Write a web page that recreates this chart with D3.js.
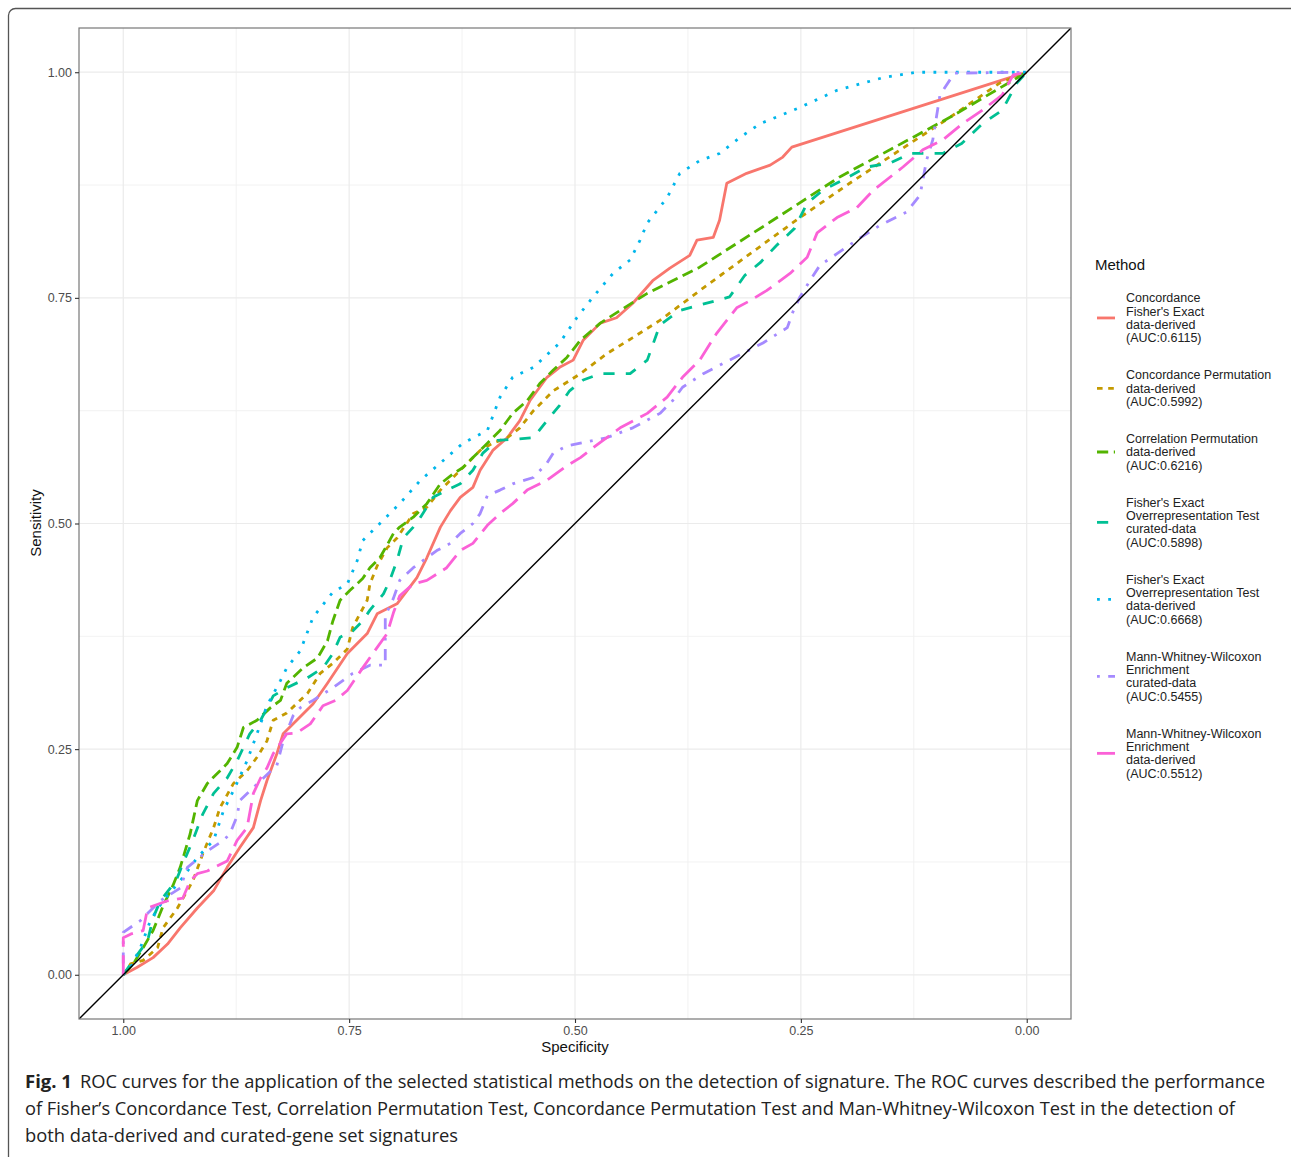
<!DOCTYPE html>
<html>
<head>
<meta charset="utf-8">
<script src="https://cdn.jsdelivr.net/npm/d3@7"></script>
<style>
    body { margin: 0; background: #fff; }
</style>
</head>
<body>
<div id="container"></div>
<script>
// ROC points: specificity (x, reversed) and sensitivity (y)
const cfe_spec = [1, 0.985, 0.967, 0.951, 0.937, 0.918, 0.900, 0.885, 0.871, 0.856, 0.848, 0.841, 0.830, 0.823, 0.808, 0.790, 0.774, 0.752, 0.730, 0.719, 0.697, 0.675, 0.664, 0.649, 0.638, 0.627, 0.613, 0.605, 0.591, 0.575, 0.561, 0.550, 0.531, 0.517, 0.502, 0.491, 0.472, 0.454, 0.436, 0.414, 0.395, 0.373, 0.365, 0.347, 0.340, 0.332, 0.310, 0.284, 0.270, 0.260, 0]
const cfe_sens = [0, 0.008, 0.019, 0.034, 0.052, 0.074, 0.093, 0.119, 0.141, 0.163, 0.193, 0.215, 0.245, 0.267, 0.282, 0.300, 0.323, 0.356, 0.378, 0.400, 0.411, 0.440, 0.462, 0.496, 0.514, 0.529, 0.540, 0.559, 0.581, 0.595, 0.614, 0.636, 0.662, 0.673, 0.681, 0.703, 0.722, 0.728, 0.744, 0.769, 0.783, 0.797, 0.814, 0.817, 0.836, 0.877, 0.888, 0.897, 0.906, 0.917, 1]

const cperm_spec = [1, 0.992, 0.978, 0.962, 0.956, 0.940, 0.923, 0.912, 0.900, 0.893, 0.878, 0.863, 0.852, 0.841, 0.834, 0.819, 0.796, 0.782, 0.768, 0.752, 0.746, 0.738, 0.730, 0.727, 0.719, 0.708, 0.697, 0.679, 0.664, 0.649, 0.635, 0.619, 0.605, 0.591, 0.575, 0.561, 0.546, 0.524, 0.494, 0.465, 0.436, 0.406, 0.362, 0.306, 0.251, 0.196, 0.140, 0.085, 0.030, 0]
const cperm_sens = [0, 0.012, 0.016, 0.030, 0.052, 0.074, 0.104, 0.134, 0.163, 0.185, 0.212, 0.226, 0.241, 0.259, 0.282, 0.290, 0.312, 0.334, 0.345, 0.361, 0.385, 0.400, 0.415, 0.433, 0.453, 0.473, 0.484, 0.511, 0.518, 0.537, 0.551, 0.567, 0.581, 0.589, 0.595, 0.606, 0.625, 0.647, 0.666, 0.688, 0.706, 0.725, 0.758, 0.799, 0.839, 0.877, 0.914, 0.950, 0.988, 1]

const corr_spec = [1, 0.989, 0.978, 0.967, 0.956, 0.945, 0.937, 0.926, 0.918, 0.907, 0.896, 0.885, 0.874, 0.867, 0.852, 0.837, 0.826, 0.819, 0.801, 0.785, 0.774, 0.768, 0.760, 0.749, 0.735, 0.727, 0.716, 0.708, 0.701, 0.694, 0.679, 0.664, 0.649, 0.635, 0.624, 0.613, 0.597, 0.583, 0.569, 0.553, 0.539, 0.524, 0.509, 0.494, 0.472, 0.450, 0.420, 0.398, 0.362, 0.284, 0.207, 0.085, 0]
const corr_sens = [0, 0.012, 0.030, 0.049, 0.076, 0.099, 0.119, 0.156, 0.193, 0.212, 0.223, 0.234, 0.252, 0.274, 0.282, 0.296, 0.304, 0.323, 0.340, 0.351, 0.370, 0.392, 0.415, 0.426, 0.439, 0.451, 0.462, 0.476, 0.489, 0.496, 0.507, 0.522, 0.544, 0.555, 0.562, 0.573, 0.589, 0.603, 0.622, 0.636, 0.655, 0.670, 0.684, 0.703, 0.722, 0.736, 0.755, 0.766, 0.784, 0.834, 0.884, 0.950, 1]

const fora_cur_spec = [1, 0.989, 0.973, 0.967, 0.959, 0.948, 0.940, 0.934, 0.923, 0.912, 0.900, 0.885, 0.874, 0.860, 0.848, 0.834, 0.819, 0.796, 0.779, 0.768, 0.760, 0.746, 0.735, 0.727, 0.712, 0.705, 0.697, 0.690, 0.679, 0.671, 0.657, 0.642, 0.627, 0.613, 0.602, 0.586, 0.546, 0.531, 0.517, 0.506, 0.491, 0.472, 0.439, 0.420, 0.406, 0.384, 0.362, 0.329, 0.312, 0.295, 0.277, 0.257, 0.243, 0.226, 0.201, 0.177, 0.152, 0.129, 0.093, 0.072, 0.049, 0.027, 0.011, 0]
const fora_cur_sens = [0, 0.016, 0.038, 0.063, 0.082, 0.096, 0.108, 0.123, 0.149, 0.178, 0.201, 0.218, 0.237, 0.267, 0.282, 0.309, 0.318, 0.329, 0.340, 0.356, 0.374, 0.381, 0.392, 0.404, 0.422, 0.437, 0.459, 0.484, 0.496, 0.507, 0.529, 0.537, 0.544, 0.559, 0.578, 0.592, 0.595, 0.614, 0.631, 0.647, 0.659, 0.666, 0.666, 0.681, 0.720, 0.736, 0.742, 0.751, 0.775, 0.789, 0.808, 0.827, 0.855, 0.869, 0.882, 0.895, 0.899, 0.910, 0.910, 0.921, 0.943, 0.958, 0.988, 1]

const fora_dd_spec = [1, 0.992, 0.981, 0.970, 0.956, 0.937, 0.918, 0.900, 0.889, 0.878, 0.863, 0.852, 0.841, 0.826, 0.819, 0.804, 0.790, 0.768, 0.752, 0.741, 0.735, 0.716, 0.694, 0.671, 0.649, 0.624, 0.597, 0.583, 0.569, 0.546, 0.517, 0.498, 0.480, 0.458, 0.439, 0.428, 0.420, 0.409, 0.398, 0.384, 0.362, 0.340, 0.317, 0.295, 0.251, 0.210, 0.159, 0.122, 0]
const fora_dd_sens = [0, 0.008, 0.030, 0.060, 0.082, 0.104, 0.130, 0.149, 0.182, 0.204, 0.237, 0.267, 0.298, 0.326, 0.340, 0.359, 0.396, 0.424, 0.433, 0.459, 0.481, 0.500, 0.522, 0.548, 0.567, 0.589, 0.603, 0.640, 0.662, 0.673, 0.700, 0.728, 0.751, 0.777, 0.792, 0.814, 0.833, 0.847, 0.861, 0.888, 0.902, 0.910, 0.928, 0.943, 0.961, 0.980, 0.994, 1, 1]

const mww_cur_spec = [1, 1, 0.981, 0.959, 0.937, 0.929, 0.907, 0.889, 0.882, 0.874, 0.871, 0.848, 0.830, 0.823, 0.812, 0.804, 0.790, 0.768, 0.746, 0.727, 0.710, 0.710, 0.701, 0.694, 0.679, 0.664, 0.653, 0.638, 0.627, 0.613, 0.605, 0.597, 0.583, 0.569, 0.546, 0.531, 0.524, 0.509, 0.494, 0.465, 0.436, 0.406, 0.392, 0.381, 0.358, 0.329, 0.292, 0.265, 0.259, 0.251, 0.240, 0.229, 0.210, 0.185, 0.163, 0.133, 0.118, 0.111, 0.104, 0.096, 0.080, 0]
const mww_cur_sens = [0, 0.047, 0.060, 0.082, 0.096, 0.119, 0.137, 0.149, 0.156, 0.176, 0.193, 0.215, 0.232, 0.259, 0.287, 0.296, 0.304, 0.318, 0.334, 0.343, 0.343, 0.398, 0.417, 0.437, 0.451, 0.462, 0.470, 0.478, 0.489, 0.500, 0.511, 0.531, 0.537, 0.544, 0.551, 0.567, 0.578, 0.586, 0.589, 0.595, 0.606, 0.622, 0.636, 0.651, 0.666, 0.681, 0.700, 0.717, 0.734, 0.751, 0.769, 0.786, 0.799, 0.816, 0.830, 0.845, 0.864, 0.902, 0.925, 0.975, 0.999, 1]

const mww_dd_spec = [1, 1, 0.992, 0.978, 0.973, 0.951, 0.934, 0.926, 0.918, 0.907, 0.885, 0.874, 0.863, 0.856, 0.848, 0.841, 0.834, 0.819, 0.808, 0.793, 0.779, 0.765, 0.752, 0.735, 0.723, 0.708, 0.701, 0.694, 0.679, 0.664, 0.642, 0.627, 0.613, 0.597, 0.583, 0.569, 0.553, 0.531, 0.509, 0.494, 0.472, 0.450, 0.420, 0.398, 0.381, 0.362, 0.343, 0.321, 0.306, 0.288, 0.262, 0.243, 0.232, 0.210, 0.188, 0.170, 0.137, 0.115, 0.093, 0.071, 0.049, 0.027, 0.015, 0]
const mww_dd_sens = [0, 0.041, 0.045, 0.049, 0.074, 0.082, 0.085, 0.104, 0.112, 0.115, 0.126, 0.149, 0.163, 0.201, 0.218, 0.229, 0.245, 0.267, 0.268, 0.278, 0.298, 0.304, 0.315, 0.340, 0.357, 0.378, 0.401, 0.420, 0.433, 0.437, 0.451, 0.470, 0.478, 0.498, 0.511, 0.522, 0.537, 0.548, 0.564, 0.573, 0.590, 0.606, 0.622, 0.640, 0.662, 0.681, 0.711, 0.739, 0.747, 0.758, 0.777, 0.795, 0.822, 0.839, 0.850, 0.869, 0.895, 0.914, 0.925, 0.943, 0.958, 0.975, 0.997, 1]

const method_labels = [
    ["Concordance", "Fisher's Exact", "data-derived", "(AUC:0.6115)"],
    ["Concordance Permutation", "data-derived", "(AUC:0.5992)"],
    ["Correlation Permutation", "data-derived", "(AUC:0.6216)"],
    ["Fisher's Exact", "Overrepresentation Test", "curated-data", "(AUC:0.5898)"],
    ["Fisher's Exact", "Overrepresentation Test", "data-derived", "(AUC:0.6668)"],
    ["Mann-Whitney-Wilcoxon", "Enrichment", "curated-data", "(AUC:0.5455)"],
    ["Mann-Whitney-Wilcoxon", "Enrichment", "data-derived", "(AUC:0.5512)"]
]

const major_ticks = [0, 0.25, 0.5, 0.75, 1]
const minor_ticks = [0.125, 0.375, 0.625, 0.875]

const caption_lines = [
    "ROC curves for the application of the selected statistical methods on the detection of signature. The ROC curves described the performance",
    "of Fisher\u2019s Concordance Test, Correlation Permutation Test, Concordance Permutation Test and Man-Whitney-Wilcoxon Test in the detection of",
    "both data-derived and curated-gene set signatures"
]

// ggplot default hues and linetypes, in legend order
const colors = ["#F8766D", "#C49A00", "#53B400", "#00C094", "#00B6EB", "#A58AFF", "#FB61D7"]
const linetypes = [null, [2, 2], [4, 2], [4, 4], [1, 3], [1, 3, 4, 3], [7, 3]]

const series = [
    d3.zip(cfe_spec, cfe_sens),
    d3.zip(cperm_spec, cperm_sens),
    d3.zip(corr_spec, corr_sens),
    d3.zip(fora_cur_spec, fora_cur_sens),
    d3.zip(fora_dd_spec, fora_dd_sens),
    d3.zip(mww_cur_spec, mww_cur_sens),
    d3.zip(mww_dd_spec, mww_dd_sens)
]

const width = 1291, height = 1157
const panel = { left: 79, right: 1071, top: 28, bottom: 1019 }
const lw = 2.8
const sans = "'Liberation Sans', Arial, Helvetica, sans-serif"

const svg = d3.select("div#container").append("svg")
    .attr("width", width)
    .attr("height", height)
    .style("display", "block")

svg.append("rect")
    .attr("width", width)
    .attr("height", height)
    .attr("fill", "#fff")

// journal figure frame, runs off the right and bottom edges
svg.append("rect")
    .attr("x", 8.5).attr("y", 8.5)
    .attr("width", 1400).attr("height", 1300)
    .attr("rx", 7)
    .attr("fill", "none")
    .attr("stroke", "#555")
    .attr("stroke-width", 1.3)

const xScale = d3.scaleLinear().domain([1.049, -0.049]).range([panel.left, panel.right])
const yScale = d3.scaleLinear().domain([-0.049, 1.049]).range([panel.bottom, panel.top])

svg.append("clipPath").attr("id", "clip")
    .append("rect")
    .attr("x", panel.left).attr("y", panel.top)
    .attr("width", panel.right - panel.left)
    .attr("height", panel.bottom - panel.top)

// grid
const grid = svg.append("g")
grid.selectAll("line.vminor").data(minor_ticks).enter().append("line")
    .attr("x1", d => xScale(d)).attr("x2", d => xScale(d))
    .attr("y1", panel.top).attr("y2", panel.bottom)
    .attr("stroke", "#f0f0f0").attr("stroke-width", 0.9)
grid.selectAll("line.hminor").data(minor_ticks).enter().append("line")
    .attr("y1", d => yScale(d)).attr("y2", d => yScale(d))
    .attr("x1", panel.left).attr("x2", panel.right)
    .attr("stroke", "#f0f0f0").attr("stroke-width", 0.9)
grid.selectAll("line.vmajor").data(major_ticks).enter().append("line")
    .attr("x1", d => xScale(d)).attr("x2", d => xScale(d))
    .attr("y1", panel.top).attr("y2", panel.bottom)
    .attr("stroke", "#ebebeb").attr("stroke-width", 1.2)
grid.selectAll("line.hmajor").data(major_ticks).enter().append("line")
    .attr("y1", d => yScale(d)).attr("y2", d => yScale(d))
    .attr("x1", panel.left).attr("x2", panel.right)
    .attr("stroke", "#ebebeb").attr("stroke-width", 1.2)

// curves
const line = d3.line()
    .x(d => xScale(d[0]))
    .y(d => yScale(d[1]))

const plot = svg.append("g").attr("clip-path", "url(#clip)")

series.forEach((pts, i) => {
    plot.append("path")
        .datum(pts)
        .attr("fill", "none")
        .attr("stroke", colors[i])
        .attr("stroke-width", lw)
        .attr("stroke-linejoin", "round")
        .attr("stroke-dasharray", linetypes[i] ? linetypes[i].map(v => v * lw).join(",") : null)
        .attr("d", line)
})

// reference diagonal
plot.append("path")
    .datum([[1.049, -0.049], [-0.049, 1.049]])
    .attr("fill", "none")
    .attr("stroke", "#000")
    .attr("stroke-width", 1.4)
    .attr("d", line)

// panel border
svg.append("rect")
    .attr("x", panel.left).attr("y", panel.top)
    .attr("width", panel.right - panel.left)
    .attr("height", panel.bottom - panel.top)
    .attr("fill", "none")
    .attr("stroke", "#777")
    .attr("stroke-width", 1.2)

// axes
const fmt = d3.format(".2f")

const yaxis = svg.append("g")
    .attr("transform", "translate(" + panel.left + ",0)")
    .call(d3.axisLeft(yScale).tickValues(major_ticks).tickFormat(fmt).tickSize(4).tickPadding(3))

const xaxis = svg.append("g")
    .attr("transform", "translate(0," + panel.bottom + ")")
    .call(d3.axisBottom(xScale).tickValues(major_ticks).tickFormat(fmt).tickSize(4).tickPadding(3))

;[xaxis, yaxis].forEach(ax => {
    ax.select(".domain").remove()
    ax.selectAll(".tick line").attr("stroke", "#333").attr("stroke-width", 1.1)
    ax.selectAll(".tick text")
        .attr("fill", "#4d4d4d")
        .style("font", "12.5px " + sans)
})

svg.append("text")
    .attr("text-anchor", "middle")
    .attr("transform", "translate(575,1052)")
    .text("Specificity")
    .style("font", "15px " + sans)
    .attr("fill", "#111")

svg.append("text")
    .attr("text-anchor", "middle")
    .attr("transform", "translate(41,523)rotate(-90)")
    .text("Sensitivity")
    .style("font", "15px " + sans)
    .attr("fill", "#111")

// legend
const legend = svg.append("g")

legend.append("text")
    .attr("x", 1095).attr("y", 270)
    .text("Method")
    .style("font", "15px " + sans)
    .attr("fill", "#111")

const lineStep = 13.3, entryGap = 23.8
let ly = 298
method_labels.forEach((lines, i) => {
    const keyY = ly + (lines.length - 1) * lineStep / 2
    legend.append("line")
        .attr("x1", 1097).attr("x2", 1115)
        .attr("y1", keyY).attr("y2", keyY)
        .attr("stroke", colors[i])
        .attr("stroke-width", lw)
        .attr("stroke-dasharray", linetypes[i] ? linetypes[i].map(v => v * lw).join(",") : null)
    lines.forEach((t, j) => {
        legend.append("text")
            .attr("x", 1126)
            .attr("y", ly + j * lineStep + 4.4)
            .text(t)
            .style("font", "12.5px " + sans)
            .attr("fill", "#222")
    })
    ly += lines.length * lineStep + entryGap
})

// caption
const capFont = "18.5px 'Open Sans', 'Noto Sans', sans-serif"
svg.append("text")
    .attr("x", 25).attr("y", 1088)
    .text("Fig. 1")
    .style("font", capFont)
    .style("font-weight", "bold")
    .attr("fill", "#222")

const capX = [80, 25, 25]
const capW = [1185, 1210, 433]
caption_lines.forEach((t, i) => {
    svg.append("text")
        .attr("x", capX[i])
        .attr("y", 1088 + i * 27)
        .attr("textLength", capW[i])
        .attr("lengthAdjust", "spacingAndGlyphs")
        .text(t)
        .style("font", capFont)
        .attr("fill", "#222")
})
</script>
</body>
</html>
